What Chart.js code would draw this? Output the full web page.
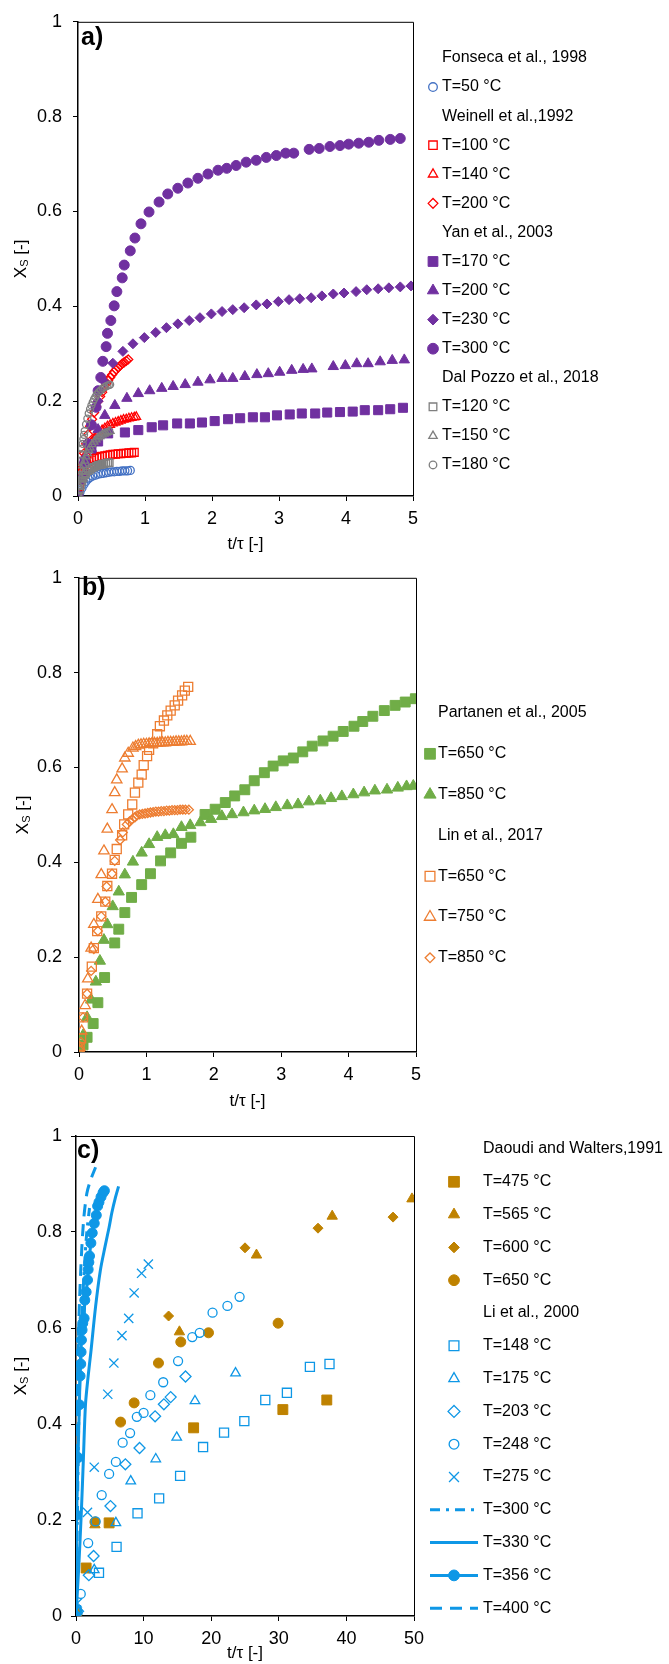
<!DOCTYPE html>
<html>
<head>
<meta charset="utf-8">
<script src="https://cdn.jsdelivr.net/npm/chart.js@4.4.1/dist/chart.umd.min.js"></script>
<style>
  html, body { margin: 0; padding: 0; background: #fff; }
  #wrap { position: relative; width: 669px; height: 1664px; }
  .pane { position: absolute; left: 0; width: 669px; }
</style>
</head>
<body>
<div id="wrap">
  <div class="pane" style="top:0;height:555px"><canvas id="ca"></canvas></div>
  <div class="pane" style="top:555px;height:557px"><canvas id="cb"></canvas></div>
  <div class="pane" style="top:1110px;height:554px"><canvas id="cc"></canvas></div>
</div>
<script>
// ---------- panel a ----------
var fonseca50 = [[0,0],[0.03,0.008],[0.06,0.017],[0.09,0.025],[0.12,0.031],[0.15,0.036],[0.18,0.039],[0.22,0.042],[0.26,0.044],[0.3,0.046],[0.34,0.047],[0.38,0.048],[0.42,0.049],[0.46,0.05],[0.5,0.051],[0.54,0.051],[0.58,0.052],[0.62,0.052],[0.66,0.053],[0.7,0.053],[0.74,0.053],[0.78,0.054]];
var weinell100 = [[0,0],[0.02,0.02],[0.04,0.035],[0.06,0.048],[0.08,0.057],[0.1,0.063],[0.13,0.068],[0.16,0.072],[0.2,0.076],[0.24,0.079],[0.28,0.081],[0.32,0.083],[0.36,0.084],[0.4,0.085],[0.44,0.086],[0.48,0.087],[0.52,0.088],[0.56,0.088],[0.6,0.089],[0.64,0.089],[0.68,0.09],[0.72,0.09],[0.76,0.091],[0.8,0.091],[0.84,0.092]];
var weinell140 = [[0,0],[0.03,0.03],[0.06,0.055],[0.09,0.075],[0.12,0.09],[0.16,0.103],[0.2,0.113],[0.24,0.121],[0.28,0.128],[0.32,0.134],[0.36,0.139],[0.4,0.143],[0.44,0.147],[0.48,0.15],[0.52,0.153],[0.56,0.155],[0.6,0.157],[0.64,0.159],[0.68,0.161],[0.72,0.162],[0.76,0.164],[0.8,0.165],[0.84,0.166],[0.87,0.167]];
var weinell200 = [[0,0],[0.03,0.035],[0.06,0.065],[0.09,0.09],[0.12,0.11],[0.15,0.13],[0.18,0.147],[0.21,0.162],[0.24,0.176],[0.27,0.189],[0.3,0.2],[0.33,0.21],[0.36,0.219],[0.39,0.228],[0.42,0.236],[0.45,0.243],[0.48,0.25],[0.51,0.256],[0.54,0.262],[0.57,0.267],[0.6,0.271],[0.63,0.275],[0.66,0.279],[0.69,0.282],[0.72,0.285],[0.75,0.288]];
var yan170 = [[0,0],[0.1,0.07],[0.2,0.1],[0.3,0.115],[0.45,0.132],[0.7,0.134],[0.9,0.139],[1.1,0.145],[1.27,0.149],[1.48,0.153],[1.67,0.153],[1.85,0.155],[2.04,0.158],[2.24,0.162],[2.42,0.164],[2.61,0.166],[2.79,0.166],[2.97,0.17],[3.16,0.172],[3.34,0.174],[3.54,0.174],[3.72,0.176],[3.91,0.177],[4.1,0.178],[4.28,0.181],[4.48,0.181],[4.66,0.183],[4.85,0.186]];
var yan200 = [[0,0],[0.1,0.05],[0.2,0.1],[0.3,0.14],[0.4,0.17],[0.55,0.191],[0.73,0.206],[0.9,0.216],[1.07,0.222],[1.25,0.227],[1.42,0.231],[1.6,0.235],[1.79,0.24],[1.97,0.245],[2.15,0.248],[2.31,0.248],[2.49,0.252],[2.67,0.256],[2.84,0.258],[3.01,0.261],[3.19,0.265],[3.36,0.267],[3.49,0.268],[3.81,0.273],[3.99,0.275],[4.16,0.279],[4.33,0.279],[4.51,0.283],[4.69,0.286],[4.87,0.287]];
var yan230 = [[0,0],[0.1,0.08],[0.2,0.15],[0.3,0.2],[0.4,0.24],[0.52,0.28],[0.67,0.305],[0.82,0.321],[0.99,0.334],[1.16,0.345],[1.32,0.355],[1.49,0.363],[1.66,0.37],[1.82,0.376],[1.99,0.384],[2.15,0.389],[2.31,0.393],[2.48,0.397],[2.66,0.403],[2.82,0.405],[2.99,0.41],[3.15,0.414],[3.31,0.416],[3.48,0.418],[3.64,0.422],[3.81,0.426],[3.97,0.428],[4.15,0.431],[4.31,0.435],[4.48,0.437],[4.64,0.439],[4.81,0.441],[4.97,0.443]];
var yan300 = [[0,0],[0.05,0.035],[0.1,0.07],[0.15,0.11],[0.2,0.15],[0.27,0.187],[0.3,0.222],[0.34,0.25],[0.37,0.284],[0.42,0.315],[0.44,0.343],[0.49,0.37],[0.54,0.401],[0.58,0.431],[0.66,0.46],[0.69,0.487],[0.78,0.517],[0.85,0.544],[0.94,0.574],[1.06,0.599],[1.21,0.62],[1.34,0.637],[1.49,0.649],[1.64,0.66],[1.79,0.67],[1.94,0.679],[2.09,0.687],[2.22,0.691],[2.36,0.697],[2.51,0.704],[2.66,0.708],[2.81,0.714],[2.96,0.718],[3.1,0.723],[3.22,0.723],[3.45,0.731],[3.6,0.733],[3.76,0.737],[3.91,0.739],[4.04,0.742],[4.19,0.744],[4.34,0.746],[4.49,0.75],[4.66,0.752],[4.81,0.754]];
var pozzo120 = [[0,0],[0.02,0.012],[0.04,0.022],[0.06,0.031],[0.08,0.038],[0.1,0.044],[0.12,0.048],[0.15,0.053],[0.18,0.056],[0.21,0.059],[0.24,0.061],[0.27,0.063],[0.3,0.065],[0.33,0.066],[0.36,0.067],[0.39,0.068],[0.42,0.069],[0.45,0.07],[0.47,0.07]];
var pozzo150 = [[0,0],[0.02,0.02],[0.04,0.038],[0.06,0.052],[0.08,0.064],[0.1,0.074],[0.12,0.083],[0.14,0.09],[0.16,0.097],[0.18,0.102],[0.21,0.109],[0.24,0.114],[0.27,0.119],[0.3,0.123],[0.33,0.126],[0.36,0.129],[0.39,0.131],[0.42,0.133],[0.45,0.135],[0.48,0.137]];
var pozzo180 = [[0,0],[0.01,0.02],[0.02,0.04],[0.03,0.058],[0.04,0.074],[0.05,0.088],[0.06,0.1],[0.07,0.11],[0.08,0.12],[0.09,0.129],[0.1,0.137],[0.12,0.151],[0.14,0.163],[0.16,0.174],[0.18,0.183],[0.2,0.191],[0.22,0.198],[0.24,0.204],[0.26,0.209],[0.28,0.214],[0.31,0.219],[0.34,0.223],[0.37,0.227],[0.4,0.23],[0.43,0.232],[0.46,0.234],[0.48,0.235]];

// ---------- panel b ----------
var partanen650 = [[0,0],[0.06,0.015],[0.12,0.031],[0.21,0.06],[0.28,0.104],[0.38,0.157],[0.53,0.23],[0.59,0.259],[0.68,0.294],[0.78,0.326],[0.93,0.353],[1.06,0.376],[1.21,0.403],[1.36,0.42],[1.52,0.44],[1.66,0.453],[1.87,0.501],[2.02,0.512],[2.17,0.526],[2.31,0.54],[2.46,0.553],[2.6,0.572],[2.75,0.589],[2.88,0.603],[3.03,0.614],[3.18,0.62],[3.32,0.633],[3.46,0.645],[3.62,0.656],[3.77,0.666],[3.92,0.676],[4.08,0.687],[4.21,0.697],[4.36,0.708],[4.53,0.72],[4.69,0.731],[4.84,0.738],[4.99,0.745]];
var partanen850 = [[0,0],[0.06,0.035],[0.12,0.073],[0.18,0.11],[0.25,0.148],[0.31,0.192],[0.37,0.236],[0.42,0.269],[0.5,0.307],[0.59,0.338],[0.68,0.374],[0.8,0.401],[0.93,0.42],[1.04,0.438],[1.16,0.453],[1.28,0.457],[1.4,0.459],[1.52,0.474],[1.65,0.478],[1.8,0.484],[1.96,0.491],[2.12,0.497],[2.27,0.501],[2.44,0.505],[2.6,0.509],[2.76,0.512],[2.92,0.516],[3.09,0.52],[3.25,0.522],[3.41,0.528],[3.58,0.53],[3.74,0.535],[3.9,0.539],[4.07,0.543],[4.23,0.547],[4.39,0.551],[4.57,0.553],[4.73,0.557],[4.86,0.56],[4.96,0.561]];
var lin650 = [[0.01,0.01],[0.03,0.029],[0.06,0.073],[0.12,0.123],[0.19,0.18],[0.22,0.219],[0.27,0.255],[0.33,0.286],[0.39,0.317],[0.42,0.35],[0.49,0.376],[0.53,0.405],[0.56,0.428],[0.64,0.457],[0.67,0.48],[0.73,0.501],[0.79,0.522],[0.83,0.547],[0.88,0.568],[0.93,0.585],[0.96,0.605],[1.01,0.624],[1.04,0.637],[1.1,0.651],[1.16,0.67],[1.2,0.687],[1.26,0.699],[1.31,0.71],[1.36,0.72],[1.42,0.731],[1.47,0.741],[1.53,0.752],[1.57,0.762],[1.62,0.77]];
var lin750 = [[0.01,0.01],[0.04,0.044],[0.09,0.098],[0.13,0.154],[0.18,0.219],[0.22,0.269],[0.28,0.322],[0.33,0.374],[0.37,0.424],[0.42,0.47],[0.49,0.511],[0.53,0.547],[0.56,0.574],[0.64,0.597],[0.68,0.62],[0.73,0.63],[0.8,0.641],[0.84,0.644],[0.88,0.647],[0.92,0.648],[0.96,0.649],[1,0.649],[1.04,0.65],[1.08,0.65],[1.12,0.651],[1.16,0.651],[1.2,0.652],[1.24,0.652],[1.28,0.652],[1.32,0.653],[1.36,0.653],[1.4,0.653],[1.44,0.654],[1.48,0.654],[1.52,0.654],[1.56,0.655],[1.6,0.655],[1.65,0.655]];
var lin850 = [[0.01,0.004],[0.03,0.021],[0.06,0.073],[0.12,0.123],[0.18,0.171],[0.22,0.217],[0.28,0.255],[0.33,0.286],[0.39,0.317],[0.41,0.349],[0.49,0.376],[0.53,0.403],[0.61,0.447],[0.65,0.463],[0.71,0.48],[0.75,0.486],[0.79,0.491],[0.83,0.495],[0.86,0.499],[0.9,0.501],[0.94,0.502],[0.98,0.503],[1.02,0.504],[1.06,0.505],[1.1,0.506],[1.14,0.507],[1.18,0.507],[1.22,0.508],[1.26,0.508],[1.3,0.509],[1.34,0.509],[1.38,0.51],[1.42,0.51],[1.46,0.51],[1.5,0.511],[1.54,0.511],[1.58,0.511],[1.63,0.511]];

// ---------- panel c ----------
var daoudi475 = [[0.1,0.005],[1.5,0.1],[4.9,0.194],[17.4,0.392],[30.6,0.43],[37.1,0.45]];
var daoudi565 = [[0,0],[2.8,0.19],[15.3,0.592],[26.7,0.752],[37.9,0.833],[49.7,0.869]];
var daoudi600 = [[0,0],[13.7,0.625],[25,0.767],[35.8,0.808],[46.9,0.831]];
var daoudi650 = [[0,0],[2.8,0.196],[6.6,0.404],[8.6,0.444],[12.2,0.527],[15.5,0.571],[19.6,0.59],[29.9,0.61]];
var li148 = [[0,0.012],[3.4,0.09],[6,0.144],[9.1,0.214],[12.3,0.245],[15.4,0.292],[18.8,0.352],[21.9,0.382],[24.9,0.406],[28,0.45],[31.2,0.465],[34.6,0.519],[37.5,0.525]];
var li175 = [[0.2,0.01],[2.7,0.096],[5.9,0.194],[8.1,0.281],[11.8,0.327],[14.9,0.372],[17.6,0.448],[23.6,0.506]];
var li203 = [[0.3,0.01],[1.9,0.085],[2.6,0.125],[5.1,0.229],[7.3,0.316],[9.4,0.35],[11.7,0.416],[13,0.441],[14,0.456],[16.2,0.499]];
var li248 = [[0.2,0.01],[0.7,0.046],[1.8,0.152],[2.9,0.197],[3.8,0.252],[4.9,0.296],[5.9,0.321],[6.9,0.361],[8,0.381],[9,0.415],[10,0.423],[11,0.46],[12.9,0.487],[15.1,0.531],[17.2,0.581],[18.3,0.59],[20.2,0.632],[22.4,0.646],[24.2,0.665]];
var li275 = [[0.2,0.027],[1.7,0.216],[2.7,0.31],[4.7,0.462],[5.6,0.527],[6.8,0.584],[7.8,0.62],[8.6,0.673],[9.7,0.714],[10.7,0.733]];
var li300 = [[0,0],[0.2,0.2],[0.4,0.4],[0.7,0.55],[1,0.66],[1.3,0.74],[1.6,0.8],[2,0.85]];
var li330 = [[0,0],[0.4,0.1],[0.8,0.22],[1.1,0.33],[1.4,0.44],[1.8,0.5],[2.2,0.55],[2.9,0.645],[3.6,0.72],[4.3,0.77],[4.9,0.81],[5.3,0.84],[5.8,0.87],[6.3,0.895]];
var li356 = [[0,0],[0.1,0.21],[0.3,0.33],[0.5,0.44],[0.6,0.5],[0.7,0.525],[0.75,0.55],[0.8,0.575],[0.9,0.596],[1,0.61],[1.2,0.62],[1.3,0.658],[1.5,0.675],[1.7,0.7],[1.8,0.722],[1.9,0.737],[2,0.75],[2.2,0.777],[2.4,0.798],[2.7,0.818],[3,0.835],[3.2,0.854],[3.4,0.862],[3.7,0.873],[4,0.882],[4.2,0.886]];
var li400 = [[0,0],[0.1,0.25],[0.2,0.45],[0.4,0.6],[0.7,0.72],[1.1,0.82],[1.6,0.88],[2.2,0.91],[2.9,0.935]];

var yTicks = [0, 0.2, 0.4, 0.6, 0.8, 1];

var FONT = "'Liberation Sans', Arial, sans-serif";
Chart.defaults.font.family = FONT;
Chart.defaults.color = '#000';

var PURPLE = '#7030A0', RED = '#FF0000', BLUE1 = '#4472C4', GRAY = '#7F7F7F';
var GREEN = '#70AD47', ORANGE = '#ED7D31', GOLD = '#BF8200', SKY = '#0E97E6';

function series(label, arr, style, color, filled, r) {
  return {
    label: label,
    data: arr.map(function (p) { return { x: p[0], y: p[1] }; }),
    pointStyle: style,
    pointRadius: r,
    pointHoverRadius: r,
    pointBackgroundColor: filled ? color : 'rgba(0,0,0,0)',
    pointBorderColor: color,
    pointBorderWidth: filled ? 1 : 1.3,
    borderColor: color,
    backgroundColor: color,
    showLine: false
  };
}
function curve(label, arr, color, dash, width, r) {
  return {
    label: label,
    data: arr.map(function (p) { return { x: p[0], y: p[1] }; }),
    showLine: true,
    borderColor: color,
    backgroundColor: color,
    borderWidth: width,
    borderDash: dash,
    tension: 0.3,
    pointStyle: 'circle',
    pointRadius: r,
    pointHoverRadius: r,
    pointBackgroundColor: color,
    pointBorderColor: color,
    pointBorderWidth: 1
  };
}

function drawMarker(ctx, ds, x, y) {
  ctx.save();
  ctx.fillStyle = ds.pointBackgroundColor;
  ctx.strokeStyle = ds.pointBorderColor;
  ctx.lineWidth = ds.pointBorderWidth;
  Chart.helpers.drawPoint(ctx, { pointStyle: ds.pointStyle, radius: ds.pointRadius * 1.08, rotation: 0, borderWidth: ds.pointBorderWidth }, x, y);
  ctx.restore();
}

// draws frame, panel tag, y title with subscript and the Excel-like legend
function decorPlugin(g) {
  return {
    id: 'decor',
    afterDraw: function (chart) {
      var ctx = chart.ctx, a = chart.chartArea;
      ctx.save();
      ctx.strokeStyle = '#000';
      ctx.lineWidth = 1;
      ctx.beginPath();
      ctx.moveTo(a.left, a.top + 0.5);
      ctx.lineTo(a.right + 0.5, a.top + 0.5);
      ctx.lineTo(a.right + 0.5, a.bottom);
      ctx.stroke();

      ctx.fillStyle = '#000';
      ctx.font = 'bold 25px ' + FONT;
      ctx.textBaseline = 'alphabetic';
      ctx.textAlign = 'left';
      ctx.fillText(g.tag, g.tagX, g.tagY);

      // y axis title: X_S [-]
      ctx.translate(g.yTitleX, (a.top + a.bottom) / 2);
      ctx.rotate(-Math.PI / 2);
      ctx.textBaseline = 'middle';
      ctx.font = '17px ' + FONT;
      var w1 = ctx.measureText('X').width, w3 = ctx.measureText(' [-]').width;
      ctx.font = '11px ' + FONT;
      var w2 = ctx.measureText('S').width;
      var sx = -(w1 + w2 + w3) / 2;
      ctx.font = '17px ' + FONT;
      ctx.fillText('X', sx, 0);
      ctx.font = '11px ' + FONT;
      ctx.fillText('S', sx + w1, 4);
      ctx.font = '17px ' + FONT;
      ctx.fillText(' [-]', sx + w1 + w2, 0);
      ctx.restore();

      // legend
      ctx.save();
      ctx.font = '16px ' + FONT;
      ctx.textBaseline = 'middle';
      ctx.fillStyle = '#000';
      g.legend.forEach(function (row, i) {
        var y = g.legY + i * g.legStep;
        if (typeof row === 'string') {
          ctx.fillStyle = '#000';
          ctx.fillText(row, g.legText, y);
          return;
        }
        var ds = chart.data.datasets[row];
        if (ds.showLine) {
          ctx.save();
          ctx.strokeStyle = ds.borderColor;
          ctx.lineWidth = ds.borderWidth;
          ctx.setLineDash(ds.borderDash || []);
          ctx.beginPath();
          ctx.moveTo(g.lineX0, y);
          ctx.lineTo(g.lineX1, y);
          ctx.stroke();
          ctx.restore();
          if (ds.pointRadius > 0) drawMarker(ctx, ds, g.legMark, y);
        } else {
          drawMarker(ctx, ds, g.legMark, y);
        }
        ctx.fillStyle = '#000';
        ctx.fillText(ds.label, g.legText, y);
      });
      ctx.restore();
    }
  };
}

function makePanel(id, datasets, g) {
  datasets.forEach(function (ds, i) { ds.order = -i; });
  var tickFont = { size: 18, family: FONT };
  return new Chart(document.getElementById(id), {
    type: 'scatter',
    data: { datasets: datasets },
    options: {
      responsive: true,
      maintainAspectRatio: false,
      animation: false,
      events: [],
      layout: { padding: { left: 0, top: g.top, right: g.right, bottom: 0 } },
      plugins: { legend: { display: false }, tooltip: { enabled: false } },
      scales: {
        x: {
          type: 'linear', min: g.xmin, max: g.xmax,
          ticks: { stepSize: g.xstep, font: tickFont, color: '#000', padding: 7, maxRotation: 0 },
          grid: { drawOnChartArea: false, drawTicks: true, tickLength: 5, color: '#000' },
          border: { color: '#000', width: 1.5 },
          title: { display: true, text: 't/τ [-]', font: { size: 17, family: FONT }, color: '#000', padding: { top: 0, bottom: g.xTitlePad } },
          afterFit: function (s) { s.height = g.xh; }
        },
        y: {
          type: 'linear', min: 0, max: 1,
          afterBuildTicks: function (s) { s.ticks = yTicks.map(function (v) { return { value: v }; }); },
          ticks: {
            font: tickFont, color: '#000', padding: g.ypad,
            callback: function (v) { return String(Math.round(v * 10) / 10); }
          },
          grid: { drawOnChartArea: false, drawTicks: true, tickLength: 5, color: '#000' },
          border: { color: '#000', width: 1.5 },
          afterFit: function (s) { s.width = g.left; }
        }
      }
    },
    plugins: [decorPlugin(g)]
  });
}

makePanel('ca', [
  series('T=50 °C', fonseca50, 'circle', BLUE1, false, 4),
  series('T=100 °C', weinell100, 'rect', RED, false, 5.5),
  series('T=140 °C', weinell140, 'triangle', RED, false, 5),
  series('T=200 °C', weinell200, 'rectRot', RED, false, 4.5),
  series('T=170 °C', yan170, 'rect', PURPLE, true, 6.4),
  series('T=200 °C', yan200, 'triangle', PURPLE, true, 6),
  series('T=230 °C', yan230, 'rectRot', PURPLE, true, 5),
  series('T=300 °C', yan300, 'circle', PURPLE, true, 5),
  series('T=120 °C', pozzo120, 'rect', GRAY, false, 5),
  series('T=150 °C', pozzo150, 'triangle', GRAY, false, 4.5),
  series('T=180 °C', pozzo180, 'circle', GRAY, false, 3.5)
], {
  top: 20, right: 256, left: 78, xh: 59, xTitlePad: 0, ypad: 11,
  xmin: 0, xmax: 5, xstep: 1,
  tag: 'a)', tagX: 81, tagY: 45, yTitleX: 21,
  legend: ['Fonseca et al., 1998', 0, 'Weinell et al.,1992', 1, 2, 3, 'Yan et al., 2003', 4, 5, 6, 7, 'Dal Pozzo et al., 2018', 8, 9, 10],
  legY: 58, legStep: 29.07, legMark: 433, legText: 442
});

makePanel('cb', [
  series('T=650 °C', partanen650, 'rect', GREEN, true, 7),
  series('T=850 °C', partanen850, 'triangle', GREEN, true, 6.5),
  series('T=650 °C', lin650, 'rect', ORANGE, false, 6.4),
  series('T=750 °C', lin750, 'triangle', ORANGE, false, 6),
  series('T=850 °C', lin850, 'rectRot', ORANGE, false, 4.5)
], {
  top: 18, right: 253, left: 79, xh: 60, xTitlePad: 0, ypad: 12,
  xmin: 0, xmax: 5, xstep: 1,
  tag: 'b)', tagX: 82, tagY: 40, yTitleX: 23,
  legend: ['Partanen et al., 2005', 0, 1, 'Lin et al., 2017', 2, 3, 4],
  legY: 158, legStep: 40.8, legMark: 430, legText: 438
});

makePanel('cc', [
  series('T=475 °C', daoudi475, 'rect', GOLD, true, 7),
  series('T=565 °C', daoudi565, 'triangle', GOLD, true, 6),
  series('T=600 °C', daoudi600, 'rectRot', GOLD, true, 5),
  series('T=650 °C', daoudi650, 'circle', GOLD, true, 5),
  series('T=148 °C', li148, 'rect', SKY, false, 6.4),
  series('T=175 °C', li175, 'triangle', SKY, false, 5.5),
  series('T=203 °C', li203, 'rectRot', SKY, false, 5.5),
  series('T=248 °C', li248, 'circle', SKY, false, 4.5),
  series('T=275 °C', li275, 'crossRot', SKY, false, 6.5),
  curve('T=300 °C', li300, SKY, [10, 6, 3, 6], 3, 0),
  curve('T=330 °C', li330, SKY, [], 3, 0),
  curve('T=356 °C', li356, SKY, [], 3, 5),
  curve('T=400 °C', li400, SKY, [12, 8], 3, 0)
], {
  top: 26, right: 255, left: 76, xh: 48, xTitlePad: 0, ypad: 9,
  xmin: 0, xmax: 50, xstep: 10,
  tag: 'c)', tagX: 77, tagY: 48, yTitleX: 21,
  legend: ['Daoudi and Walters,1991', 0, 1, 2, 3, 'Li et al., 2000', 4, 5, 6, 7, 8, 9, 10, 11, 12],
  legY: 39, legStep: 32.8, legMark: 454, legText: 483, lineX0: 430, lineX1: 478
});
</script>
</body>
</html>
